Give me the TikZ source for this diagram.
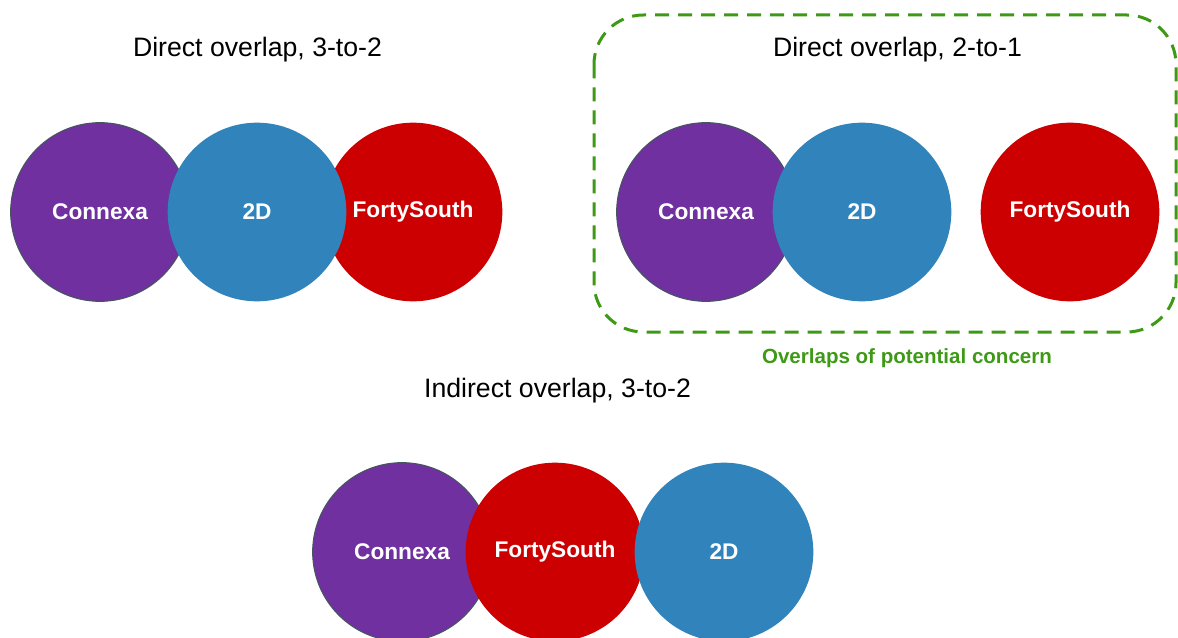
\documentclass[tikz,border=0pt]{standalone}
\usepackage{fontspec}
\setmainfont{Liberation Sans}
\definecolor{cpurple}{RGB}{112,48,160}
\definecolor{cblue}{RGB}{49,132,187}
\definecolor{cred}{RGB}{204,0,0}
\definecolor{cgreen}{RGB}{62,154,22}
\definecolor{cedge}{RGB}{70,85,95}
\begin{document}
\begin{tikzpicture}[x=0.75pt,y=-0.75pt,
  blob/.style={circle,minimum size=134pt,inner sep=0pt,text=white,
    font=\fontsize{17pt}{20pt}\selectfont\bfseries},
  purp/.style={blob,fill=cpurple,draw=cedge,line width=0.8pt},
  blu/.style={blob,fill=cblue},
  rd/.style={blob,fill=cred},
  title/.style={anchor=base,inner sep=0pt,font=\fontsize{20pt}{24pt}\selectfont},
  concern/.style={draw=cgreen,line width=2.25pt,dash pattern=on 10.5pt off 6.75pt,rounded corners=37pt}
]
\useasboundingbox (0,0) rectangle (1178,638);

% Top-left group
\node[title] (t1) at (257.5,57) {Direct overlap, 3-to-2};
\node[purp] (c1) at (100,212) {Connexa};
\node[rd] (f1) at (413,212) {FortySouth};
\node[blu] (d1) at (257,212) {2D};

% Top-right group
\draw[concern] (594,15) rectangle (1176,332);
\node[title] (t2) at (897.5,57) {Direct overlap, 2-to-1};
\node[purp] (c2) at (706,212) {Connexa};
\node[blu] (d2) at (862,212) {2D};
\node[rd] (f2) at (1070,212) {FortySouth};
\node[anchor=base,inner sep=0pt,text=cgreen,font=\fontsize{15.4pt}{18pt}\selectfont\bfseries] (oc) at (907,363) {Overlaps of potential concern};

% Bottom group
\node[title] (t3) at (557.5,397) {Indirect overlap, 3-to-2};
\node[purp] (c3) at (402,552) {Connexa};
\node[rd] (f3) at (555,552) {FortySouth};
\node[blu] (d3) at (724,552) {2D};
\end{tikzpicture}
\end{document}
